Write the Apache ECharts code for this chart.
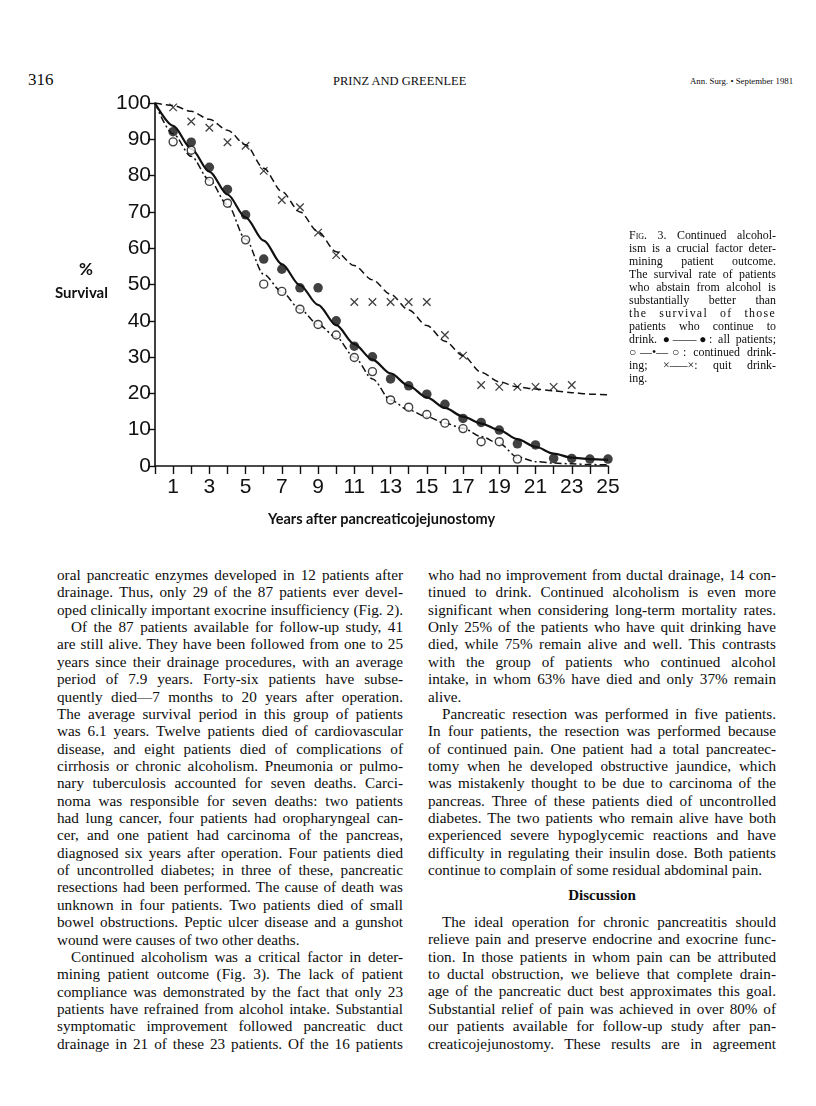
<!DOCTYPE html>
<html>
<head>
<meta charset="utf-8">
<script src="https://cdn.jsdelivr.net/npm/echarts@6/dist/echarts.min.js"></script>
<style>
  html,body{margin:0;padding:0;background:#fff;}
  #page{position:relative;width:816px;height:1106px;overflow:hidden;background:#fff;color:#0d0d0d;}
  #chart{position:absolute;left:0;top:0;width:816px;height:560px;}
  .hdr{position:absolute;font-family:'Liberation Serif','Times New Roman',serif;white-space:nowrap;}
  .col{position:absolute;font-family:'Liberation Serif','Times New Roman',serif;font-size:15.2px;line-height:17.37px;}
  .col div{height:17.37px;white-space:nowrap;text-align:justify;text-align-last:justify;}
  .col div.e{text-align-last:left;}
  .col div.i{text-indent:14px;}
  .cap{position:absolute;left:629px;top:228.5px;width:147px;font-family:'Liberation Serif','Times New Roman',serif;font-size:11.9px;line-height:13px;}
  .cap div{height:13px;white-space:nowrap;text-align:justify;text-align-last:justify;}
  .cap div.e{text-align-last:left;}
  .sc{font-variant:small-caps;}
  .head{position:absolute;left:428px;width:348px;text-align:center;font-family:'Liberation Serif','Times New Roman',serif;font-weight:bold;font-size:15px;}
</style>
</head>
<body>
<div id="page">
  <div class="hdr" style="left:28px;top:70px;font-size:17px;">316</div>
  <div class="hdr" style="left:333px;top:74px;font-size:12.5px;">PRINZ AND GREENLEE</div>
  <div class="hdr" style="left:690px;top:76px;font-size:8.8px;">Ann. Surg. • September 1981</div>

  <div id="chart"></div>

  <div class="cap">
    <div>F<span class="sc">ig</span>. 3. Continued alcohol-</div>
    <div>ism is a crucial factor deter-</div>
    <div>mining patient outcome.</div>
    <div>The survival rate of patients</div>
    <div>who abstain from alcohol is</div>
    <div>substantially better than</div>
    <div style="letter-spacing:1.3px;">the survival of those</div>
    <div>patients who continue to</div>
    <div>drink. ●——●: all patients;</div>
    <div>○—•—○: continued drink-</div>
    <div>ing; ×–––×: quit drink-</div>
    <div class="e">ing.</div>
  </div>

  <div class="col" style="left:57px;top:566px;width:346px;">
    <div>oral pancreatic enzymes developed in 12 patients after</div>
    <div>drainage. Thus, only 29 of the 87 patients ever devel-</div>
    <div>oped clinically important exocrine insufficiency (Fig. 2).</div>
    <div class="i">Of the 87 patients available for follow-up study, 41</div>
    <div>are still alive. They have been followed from one to 25</div>
    <div>years since their drainage procedures, with an average</div>
    <div>period of 7.9 years. Forty-six patients have subse-</div>
    <div>quently died—7 months to 20 years after operation.</div>
    <div>The average survival period in this group of patients</div>
    <div>was 6.1 years. Twelve patients died of cardiovascular</div>
    <div>disease, and eight patients died of complications of</div>
    <div>cirrhosis or chronic alcoholism. Pneumonia or pulmo-</div>
    <div>nary tuberculosis accounted for seven deaths. Carci-</div>
    <div>noma was responsible for seven deaths: two patients</div>
    <div>had lung cancer, four patients had oropharyngeal can-</div>
    <div>cer, and one patient had carcinoma of the pancreas,</div>
    <div>diagnosed six years after operation. Four patients died</div>
    <div>of uncontrolled diabetes; in three of these, pancreatic</div>
    <div>resections had been performed. The cause of death was</div>
    <div>unknown in four patients. Two patients died of small</div>
    <div>bowel obstructions. Peptic ulcer disease and a gunshot</div>
    <div class="e">wound were causes of two other deaths.</div>
    <div class="i">Continued alcoholism was a critical factor in deter-</div>
    <div>mining patient outcome (Fig. 3). The lack of patient</div>
    <div>compliance was demonstrated by the fact that only 23</div>
    <div>patients have refrained from alcohol intake. Substantial</div>
    <div>symptomatic improvement followed pancreatic duct</div>
    <div>drainage in 21 of these 23 patients. Of the 16 patients</div>
  </div>

  <div class="col" style="left:428px;top:566px;width:348px;">
    <div>who had no improvement from ductal drainage, 14 con-</div>
    <div>tinued to drink. Continued alcoholism is even more</div>
    <div>significant when considering long-term mortality rates.</div>
    <div>Only 25% of the patients who have quit drinking have</div>
    <div>died, while 75% remain alive and well. This contrasts</div>
    <div>with the group of patients who continued alcohol</div>
    <div>intake, in whom 63% have died and only 37% remain</div>
    <div class="e">alive.</div>
    <div class="i">Pancreatic resection was performed in five patients.</div>
    <div>In four patients, the resection was performed because</div>
    <div>of continued pain. One patient had a total pancreatec-</div>
    <div>tomy when he developed obstructive jaundice, which</div>
    <div>was mistakenly thought to be due to carcinoma of the</div>
    <div>pancreas. Three of these patients died of uncontrolled</div>
    <div>diabetes. The two patients who remain alive have both</div>
    <div>experienced severe hypoglycemic reactions and have</div>
    <div>difficulty in regulating their insulin dose. Both patients</div>
    <div class="e">continue to complain of some residual abdominal pain.</div>
  </div>

  <div class="head" style="top:887px;">Discussion</div>

  <div class="col" style="left:428px;top:913px;width:348px;">
    <div class="i">The ideal operation for chronic pancreatitis should</div>
    <div>relieve pain and preserve endocrine and exocrine func-</div>
    <div>tion. In those patients in whom pain can be attributed</div>
    <div>to ductal obstruction, we believe that complete drain-</div>
    <div>age of the pancreatic duct best approximates this goal.</div>
    <div>Substantial relief of pain was achieved in over 80% of</div>
    <div>our patients available for follow-up study after pan-</div>
    <div>creaticojejunostomy. These results are in agreement</div>
  </div>
</div>

<script>
// ---- Data ----
const curveYears = [0,1,2,3,4,5,6,7,8,9,10,11,12,13,14,15,16,17,18,19,20,21,22,23,24,25];
const allPatientsCurve = [100,93.7,87.4,81.1,74.8,68.5,62.1,55.6,49.8,44.4,38.8,33.6,29.3,25.5,22.1,18.9,16,13.6,11.7,9.9,7.4,5.3,3.4,2.3,1.9,1.7];
const continuedCurve  = [100,91.5,85.3,78.8,72,62.5,52.8,48,43.2,39,35.5,30,24,18.2,15.4,13.6,11.8,10.4,8.1,6.2,2.5,1.2,0.8,0.6,0.4,0.3];
const quitCurve       = [100,99.3,97.7,95.5,92.5,88.5,82,75.6,70,64.5,59,55.2,51.3,47.3,43,38.7,34.4,30.4,25.8,23.2,21.8,21.2,20.7,20.2,19.8,19.6];

const allPtsYears  = [1,2,3,4,5,6,7,8,9,10,11,12,13,14,15,16,17,18,19,20,21,22,23,24,25];
const allPtsValues = [92.1,89.2,82.3,76.2,69.2,57,54.2,49.1,49.1,40,33,30.1,24,22.1,19.8,17,13.1,12,9.9,6.1,5.8,2.1,2.1,1.9,1.9];
const contPtsYears  = [1,2,3,4,5,6,7,8,9,10,11,12,13,14,15,16,17,18,19,20];
const contPtsValues = [89.3,87,78.4,72.4,62.3,50.1,48.1,43.2,39,36.1,29.9,26,18.2,16.2,14.2,11.8,10.3,6.7,6.7,1.9];
const quitPtsYears  = [1,2,3,4,5,6,7,8,9,10,11,12,13,14,15,16,17,18,19,20,21,22,23];
const quitPtsValues = [98.8,94.9,93.2,89.2,88.2,81.3,73.3,71.3,64.3,58.1,45.2,45.2,45.2,45.2,45.2,36.1,30.4,22.3,21.8,21.8,21.8,21.8,22.3];

const yTicks = [0,10,20,30,40,50,60,70,80,90,100];
const xLabelYears = [1,3,5,7,9,11,13,15,17,19,21,23,25];
const yName1 = '%';
const yName2 = 'Survival';
const xName = 'Years after pancreaticojejunostomy';

// ---- Build ----
const pair = (xs, ys) => xs.map((x, i) => [x, ys[i]]);
const axisFont = "'Liberation Sans','Arial',sans-serif";
const nameFont = "Lato,'Noto Sans',sans-serif";
const ink = '#111';

const chart = echarts.init(document.getElementById('chart'), null, {renderer: 'canvas'});
chart.setOption({
  animation: false,
  backgroundColor: 'transparent',
  grid: {left: 155, top: 103, width: 453, height: 363, containLabel: false},
  xAxis: {
    type: 'value', min: 0, max: 25, interval: 1,
    name: xName, nameLocation: 'middle', nameGap: 46,
    nameTextStyle: {fontFamily: nameFont, fontSize: 14.5, fontWeight: 'bold', color: ink},
    axisLine: {show: true, onZero: false, lineStyle: {color: ink, width: 1.6}},
    axisTick: {show: true, length: 8, lineStyle: {color: ink, width: 1.4}},
    splitLine: {show: false},
    axisLabel: {
      margin: 11, fontSize: 21, color: ink, fontFamily: axisFont,
      formatter: v => (xLabelYears.indexOf(v) >= 0 ? String(v) : '')
    }
  },
  yAxis: {
    type: 'value', min: 0, max: 100, interval: 10,
    axisLine: {show: true, onZero: false, lineStyle: {color: ink, width: 1.6}},
    axisTick: {show: true, length: 7, lineStyle: {color: ink, width: 1.4}},
    splitLine: {show: false},
    axisLabel: {
      margin: 4, fontSize: 21, color: ink, fontFamily: axisFont,
      formatter: v => (yTicks.indexOf(v) >= 0 ? String(v) : '')
    }
  },
  graphic: [
    {type: 'text', left: 79, top: 261, style: {text: yName1, font: "bold 17px Lato,'Noto Sans',sans-serif", fill: ink}},
    {type: 'text', left: 55, top: 286, style: {text: yName2, font: "bold 15px Lato,'Noto Sans',sans-serif", fill: ink}}
  ],
  series: [
    {
      name: 'all patients (curve)', type: 'line', data: pair(curveYears, allPatientsCurve),
      smooth: 0.3, smoothMonotone: 'x', showSymbol: false, silent: true,
      lineStyle: {color: ink, width: 2.2, type: 'solid'}, z: 2
    },
    {
      name: 'continued drinking (curve)', type: 'line', data: pair(curveYears, continuedCurve),
      smooth: 0.3, smoothMonotone: 'x', showSymbol: false, silent: true,
      lineStyle: {color: ink, width: 1.5, type: [7, 3, 2, 3]}, z: 2
    },
    {
      name: 'quit drinking (curve)', type: 'line', data: pair(curveYears, quitCurve),
      smooth: 0.3, smoothMonotone: 'x', showSymbol: false, silent: true,
      lineStyle: {color: ink, width: 1.5, type: [7, 4]}, z: 2
    },
    {
      name: 'all patients', type: 'scatter', data: pair(allPtsYears, allPtsValues),
      symbol: 'circle', symbolSize: 9.5, itemStyle: {color: ink}, z: 3
    },
    {
      name: 'continued drinking', type: 'scatter', data: pair(contPtsYears, contPtsValues),
      symbol: 'circle', symbolSize: 8, itemStyle: {color: '#fff', borderColor: ink, borderWidth: 1.4}, z: 4
    },
    {
      name: 'quit drinking', type: 'scatter', data: pair(quitPtsYears, quitPtsValues),
      symbol: 'path://M0,0L10,10M10,0L0,10', symbolSize: 7.5,
      itemStyle: {color: 'none', borderColor: ink, borderWidth: 1.3}, z: 4
    }
  ]
});
</script>
</body>
</html>
